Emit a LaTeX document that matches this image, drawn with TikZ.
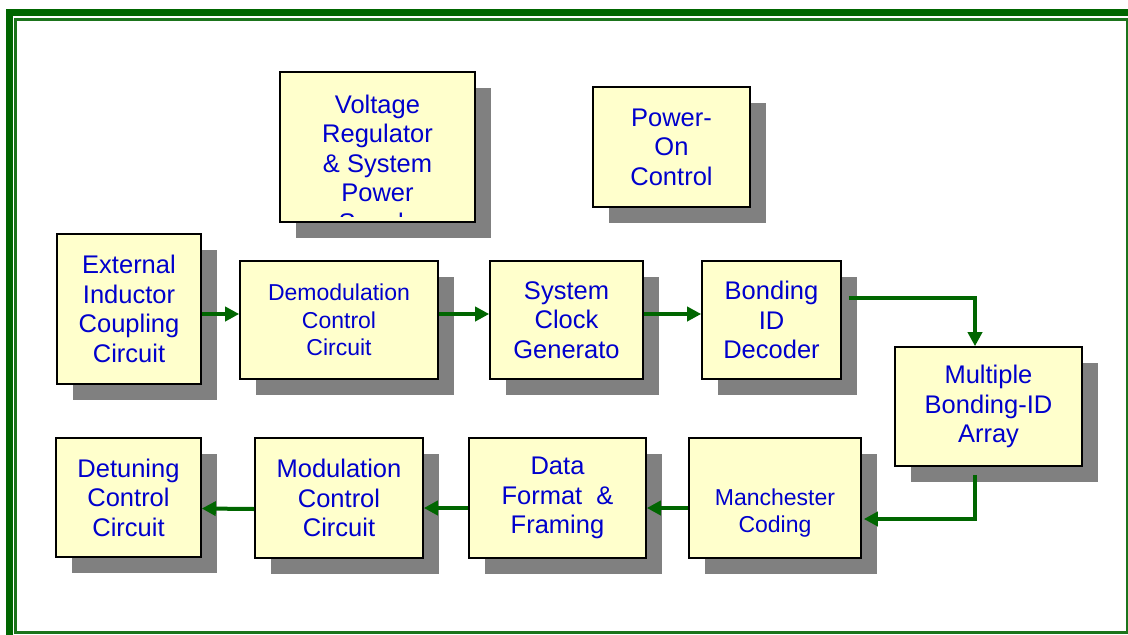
\documentclass[tikz,border=0pt]{standalone}
\usepackage{fontspec}
\setmainfont{Liberation Sans}
\usetikzlibrary{arrows.meta,shadows}
\definecolor{boxfill}{HTML}{FFFFCC}
\definecolor{boxtext}{HTML}{0000CC}
\definecolor{flowgreen}{HTML}{006600}
\definecolor{framegreen}{HTML}{006600}
\definecolor{innergreen}{HTML}{1B741B}
\definecolor{shadowgray}{HTML}{808080}

\begin{document}
\begin{tikzpicture}[x=1pt,y=-1pt,
    every node/.style={inner sep=0pt,align=center,text=boxtext,
      font=\fontsize{25.5}{29.5}\selectfont},
    block/.style={draw=black,line width=1.6pt,fill=boxfill,
      execute at begin node={\rule{0pt}{24pt}},
      drop shadow={shadow xshift=15.5pt,shadow yshift=-15.5pt,fill=shadowgray,opacity=1}},
    small/.style={font=\fontsize{23}{27.5}\selectfont},
    flow/.style={draw=flowgreen,line width=4pt,-{Triangle[length=14pt,width=14pt]}}]
  \clip (0,0) rectangle (1128,635);
  \draw[framegreen,line width=6.5pt] (9.3,12.3) rectangle (1145,650);
  \draw[innergreen,line width=3pt] (15.8,19) rectangle (1127,632);

  \node[block,minimum width=195pt,minimum height=150pt] (vreg) at (377.5,147) {};
  \begin{scope}
    \clip (281,73) rectangle (474,216.5);
    \node[anchor=north] (vregtext) at (377.5,94.5) {Voltage\\Regulator\\\& System\\Power\\Supply};
  \end{scope}
  \node[block,minimum width=157pt,minimum height=120pt] (pwron) at (671.5,147) {Power-\\On\\Control};

  \node[block,minimum width=144pt,minimum height=150pt] (extind) at (129,309) {External\\Inductor\\Coupling\\Circuit};
  \node[block,small,minimum width=198pt,minimum height=118pt] (demod) at (339,320) {Demodulation\\Control\\Circuit};
  \node[block,minimum width=153pt,minimum height=118pt] (sysclk) at (566.5,320) {System\\Clock\\Generato};
  \node[block,minimum width=139pt,minimum height=118pt] (bondid) at (771.5,320) {Bonding\\ID\\Decoder};
  \node[block,minimum width=187pt,minimum height=119pt] (multi) at (988.5,406.5) {Multiple\\Bonding-ID\\Array};

  \node[block,small,minimum width=172pt,minimum height=120pt] (manch) at (775,498) {\strut\\Manchester\\Coding};
  \node[block,minimum width=177pt,minimum height=120pt] (datafmt) at (557.5,498) {Data\\Format\ \ \&\\Framing};
  \node[block,minimum width=168pt,minimum height=120pt] (modul) at (339,498) {Modulation\\Control\\Circuit};
  \node[block,minimum width=145pt,minimum height=119pt] (detune) at (128.5,497.5) {Detuning\\Control\\Circuit};

  \draw[flow] ([yshift=-5pt]extind.east) -- ([yshift=6pt]demod.west);
  \draw[flow] ([yshift=6pt]demod.east) -- ([yshift=6pt]sysclk.west);
  \draw[flow] ([yshift=6pt]sysclk.east) -- ([yshift=6pt]bondid.west);
  \draw[flow] ([xshift=7pt,yshift=22pt]bondid.east) -| ([xshift=-13.5pt]multi.north);
  \draw[flow] ([xshift=-13.5pt,yshift=-8pt]multi.south) |- ([xshift=2pt,yshift=-21pt]manch.east);
  \draw[flow] ([yshift=-10pt]manch.west) -- ([yshift=-10pt]datafmt.east);
  \draw[flow] ([yshift=-10pt]datafmt.west) -- ([yshift=-10pt]modul.east);
  \draw[flow] ([yshift=-11pt]modul.west) -- ([yshift=-11pt]detune.east);
\end{tikzpicture}
\end{document}
